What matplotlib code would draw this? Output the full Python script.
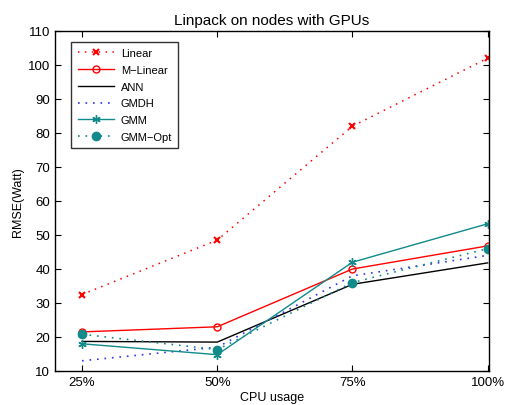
import matplotlib
matplotlib.use("Agg")
import matplotlib.pyplot as plt

plt.rcParams['font.family'] = ['Liberation Sans', 'DejaVu Sans']

categories = ['25%', '50%', '75%', '100%']
linear = [32.5, 48.5, 82, 102]
m_linear = [21.5, 23, 40, 46.8]
ann = [18.7, 18.5, 35.5, 41.8]
gmdh = [13, 17, 38, 44]
gmm = [18, 14.8, 42, 53.3]
gmm_opt = [20.8, 16.3, 36, 46]

x = list(range(1, len(categories) + 1))
teal = '#118a8a'
dot = (0, (1, 3.5))

fig = plt.figure(figsize=(5.06, 4.06), dpi=100)
ax = fig.add_axes([55/506, 34/406, (489-55)/506, (372-32)/406])

ax.plot(x, linear, linestyle=dot, color='red', marker='x', markersize=5, mew=1.5, lw=1.1, label='Linear')
ax.plot(x, m_linear, linestyle='-', color='red', marker='o', markersize=5, mfc='none', mew=1, lw=1, label='M\u2212Linear')
ax.plot(x, ann, linestyle='-', color='black', lw=1, label='ANN')
ax.plot(x, gmdh, linestyle=dot, color='#3333ee', lw=1.2, label='GMDH')
ax.plot(x, gmm, linestyle='-', color=teal, marker=(6, 2, 0), markersize=6, mew=1, lw=1, label='GMM')
ax.plot(x, gmm_opt, linestyle=dot, color=teal, marker='o', markersize=6, lw=1.2, label='GMM\u2212Opt')

ax.set_xlim(0.8, 4.01)
ax.set_ylim(10, 110)
ax.set_xticks(x)
ax.set_xticklabels(categories)
ax.set_yticks(range(10, 111, 10))
ax.tick_params(direction='in', top=True, right=True, labelsize=9.5, length=4, width=0.8)
for s in ax.spines.values():
    s.set_linewidth(1)

ax.set_title('Linpack on nodes with GPUs', fontsize=11, pad=5)
ax.set_xlabel('CPU usage', fontsize=9, labelpad=2)
ax.set_ylabel('RMSE(Watt)', fontsize=9, labelpad=3)

leg = ax.legend(loc='upper left', bbox_to_anchor=(0.025, 0.985), fontsize=8, frameon=True,
                fancybox=False, edgecolor='black', handlelength=3.3, borderpad=0.55,
                labelspacing=0.62, handletextpad=0.6)
leg.get_frame().set_linewidth(1)

fig.savefig('out.png', dpi=100)
